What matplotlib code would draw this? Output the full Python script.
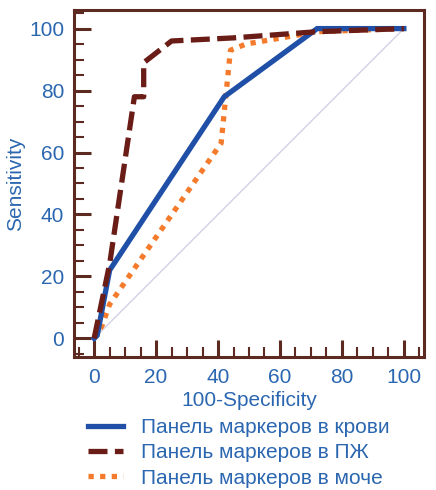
import matplotlib
matplotlib.use("Agg")
import matplotlib.pyplot as plt
from matplotlib.ticker import MultipleLocator

plt.rcParams['font.family'] = ['Liberation Sans', 'DejaVu Sans']

# Data (100-Specificity, Sensitivity)
blood_x = [0, 1, 5, 42, 72, 100]
blood_y = [0, 1, 22, 78, 100, 100]

pzh_x = [0, 5, 13, 16, 16, 25, 45, 72, 100]
pzh_y = [0, 24, 78, 78, 89, 96, 97, 99, 100]

urine_x = [0, 2.5, 5, 41, 44, 49, 72, 100]
urine_y = [0, 4, 11, 63, 93, 95, 99, 100]

labels = ["Панель маркеров в крови", "Панель маркеров в ПЖ", "Панель маркеров в моче"]
xticks = [0, 20, 40, 60, 80, 100]
yticks = [0, 20, 40, 60, 80, 100]

blue = '#1f4fa6'
darkred = '#6a1c16'
orange = '#f57b2c'
txt = '#2b67b0'
spine = '#5c2a20'

fig = plt.figure(figsize=(4.36, 4.90), dpi=100)
ax = fig.add_axes([74/436, 1-357/490, 350/436, 347/490])

ax.plot([0, 100], [0, 100], color='#d2d2e4', lw=1.0, zorder=1)
l1, = ax.plot(blood_x, blood_y, color=blue, lw=3.8, solid_joinstyle='miter', zorder=3, label=labels[0])
l2, = ax.plot(pzh_x, pzh_y, color=darkred, lw=3.8, dashes=(3.6, 1.4), zorder=4, label=labels[1])
l3, = ax.plot(urine_x, urine_y, color=orange, lw=3.8, dashes=(1, 1.2), zorder=2, label=labels[2])

ax.set_xlim(-6.5, 106.5)
ax.set_ylim(-6, 106)
ax.set_xticks(xticks)
ax.set_yticks(yticks)
ax.xaxis.set_minor_locator(MultipleLocator(5))
ax.yaxis.set_minor_locator(MultipleLocator(5))
ax.tick_params(which='major', direction='in', length=12, width=2.2, color=spine,
               labelsize=15, labelcolor=txt)
ax.tick_params(which='minor', direction='in', length=7, width=1.5, color=spine)
ax.tick_params(axis='x', which='major', pad=8)
ax.tick_params(axis='y', which='major', pad=7)
for s in ax.spines.values():
    s.set_color(spine)
    s.set_linewidth(2.2)

ax.set_xlabel("100-Specificity", fontsize=15, color=txt, labelpad=3)
ax.set_ylabel("Sensitivity", fontsize=15, color=txt, labelpad=3)

leg = fig.legend(handles=[l1, l2, l3], labels=labels, loc='upper left',
                 bbox_to_anchor=(88/436, 1-418/490), frameon=False,
                 fontsize=15, handlelength=1.7, handletextpad=0.85,
                 labelspacing=0.3, borderpad=0, borderaxespad=0)
for t in leg.get_texts():
    t.set_color(txt)

fig.savefig("out.png", dpi=100)
